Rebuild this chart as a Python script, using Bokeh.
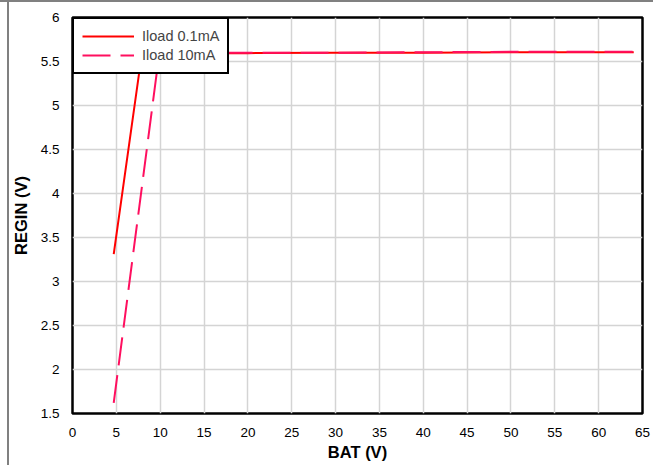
from bokeh.plotting import figure
from bokeh.models import FixedTicker, Range1d
from bokeh.embed import file_html
from bokeh.resources import INLINE

# ---- data ----
bat_01 = [4.7, 7.9, 10, 20, 30, 40, 50, 60, 64]
regin_01 = [3.31, 5.585, 5.595, 5.595, 5.6, 5.6, 5.605, 5.605, 5.605]

bat_10 = [4.7, 9.9, 15, 20, 30, 40, 50, 60, 64]
regin_10 = [1.62, 5.595, 5.6, 5.6, 5.6, 5.605, 5.61, 5.61, 5.61]

x_ticks = [0, 5, 10, 15, 20, 25, 30, 35, 40, 45, 50, 55, 60, 65]
y_ticks = [1.5, 2, 2.5, 3, 3.5, 4, 4.5, 5, 5.5, 6]
y_tick_labels = ["1.5", "2", "2.5", "3", "3.5", "4", "4.5", "5", "5.5", "6"]

series_names = ["Iload 0.1mA", "Iload 10mA"]
FONT = "Liberation Sans"

p = figure(
    width=653, height=465,
    output_backend="svg", toolbar_location=None,
    x_range=Range1d(0, 65), y_range=Range1d(1.5, 6),
    min_border_left=72, min_border_right=11,
    min_border_top=15, min_border_bottom=54,
    styles={"border-top": "2px solid #808080",
            "background": "linear-gradient(to right, #ffffff 7px, #808080 7px, "
                          "#808080 9px, #ffffff 9px)"},
)
p.border_fill_alpha = 0
p.background_fill_color = "white"

p.outline_line_color = "black"
p.outline_line_alpha = 1
p.outline_line_width = 2.5

p.xaxis.ticker = FixedTicker(ticks=x_ticks)
p.yaxis.ticker = FixedTicker(ticks=y_ticks)
p.yaxis.major_label_overrides = {v: s for v, s in zip(y_ticks, y_tick_labels)}

for ax in (p.xaxis, p.yaxis):
    ax.axis_line_color = None
    ax.major_tick_line_color = None
    ax.minor_tick_line_color = None
    ax.major_label_text_font = FONT
    ax.major_label_text_font_size = "13.5px"
    ax.major_label_text_color = "black"
    ax.axis_label_text_font = FONT
    ax.axis_label_text_font_size = "16.5px"
    ax.axis_label_text_font_style = "bold"
    ax.axis_label_text_color = "black"

p.xaxis.axis_label = "BAT (V)"
p.yaxis.axis_label = "REGIN (V)"
p.xaxis.major_label_standoff = 8
p.yaxis.major_label_standoff = 7
p.xaxis.axis_label_standoff = 3
p.yaxis.axis_label_standoff = 8

p.grid.grid_line_color = "#d4d4d4"
p.grid.grid_line_width = 1.5

p.line(bat_01, regin_01, line_color="#ff0000", line_width=2,
       legend_label=series_names[0])
p.line(bat_10, regin_10, line_color="#ff0f5f", line_width=2,
       line_dash="28 10", legend_label=series_names[1])

lg = p.legend[0]
lg.location = "top_left"
lg.margin = 0
lg.padding = 8
lg.spacing = 1
lg.label_height = 18
lg.glyph_height = 18
lg.glyph_width = 52
lg.label_standoff = 8
lg.border_line_color = "black"
lg.border_line_alpha = 1
lg.border_line_width = 2.5
lg.background_fill_color = "white"
lg.background_fill_alpha = 1
lg.label_text_font = FONT
lg.label_text_font_size = "14.5px"

open("out.html", "w").write(file_html(p, INLINE))
